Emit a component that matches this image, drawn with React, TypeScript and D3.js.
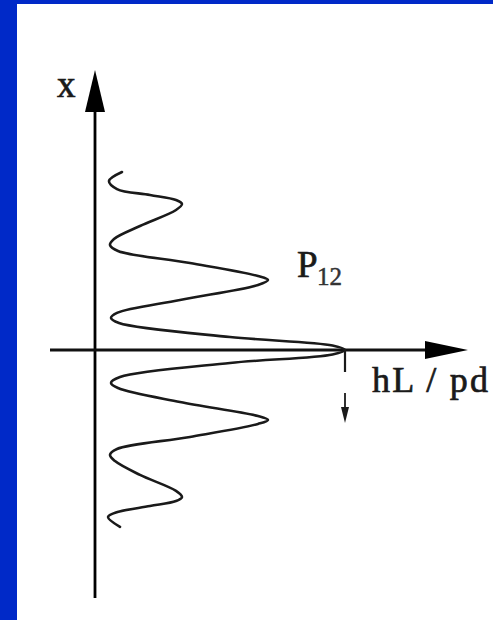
import React from "react";
import * as d3 from "d3";

// Interference profile: position x along the screen (vertical axis)
// and the detection probability P12 (horizontal axis, peak = 1).
const curveX = [
  0.989, 0.939, 0.894, 0.861, 0.833, 0.811, 0.778, 0.689, 0.617, 0.583,
  0.55, 0.483, 0.411, 0.389, 0.361, 0.278, 0.206, 0.178, 0.15, 0.072,
  0.025, 0.0,
  -0.025, -0.072, -0.15, -0.183, -0.211, -0.289, -0.367, -0.389, -0.411,
  -0.483, -0.55, -0.583, -0.617, -0.694, -0.783, -0.817, -0.839, -0.867,
  -0.9, -0.928, -0.983,
];
const curveP = [
  0.108, 0.056, 0.088, 0.22, 0.324, 0.348, 0.324, 0.18, 0.076, 0.06,
  0.092, 0.38, 0.652, 0.692, 0.652, 0.34, 0.088, 0.064, 0.096, 0.54,
  0.95, 1.0,
  0.95, 0.54, 0.1, 0.064, 0.092, 0.34, 0.652, 0.692, 0.652,
  0.38, 0.088, 0.06, 0.08, 0.18, 0.324, 0.348, 0.324, 0.22,
  0.09, 0.052, 0.1,
];

const axisXLabel = "x";
const axisPLabel = "hL / pd";
const curveLabel = "P";
const curveLabelSub = "12";

const W = 493;
const H = 620;
const BLUE = "#0029c8";
const INK = "#1a1a1a";

export default function App() {
  // P12 runs left-to-right, x runs bottom-to-top
  const pScale = d3.scaleLinear().domain([0, 1]).range([95, 345]);
  const xScale = d3.scaleLinear().domain([-1, 1]).range([530, 170]);
  const x0 = pScale(0);
  const y0 = xScale(0);

  const pts: [number, number][] = curveX.map((x, i) => [pScale(curveP[i]), xScale(x)]);
  const line = d3
    .line<[number, number]>()
    .x((d) => d[0])
    .y((d) => d[1])
    .curve(d3.curveCatmullRom.alpha(0.5));

  const peakX = pScale(1);
  const textStyle = { stroke: INK, strokeWidth: 0.7 };

  return (
    <svg
      width={W}
      height={H}
      style={{ position: "absolute", left: 0, top: 0, background: "#fff" }}
      fontFamily="'Liberation Serif', 'Times New Roman', serif"
    >
      {/* slide frame */}
      <rect x={0} y={0} width={W} height={4} fill={BLUE} />
      <rect x={0} y={0} width={17} height={H} fill={BLUE} />

      {/* vertical axis (x) */}
      <line x1={x0} y1={598} x2={x0} y2={100} stroke="#000" strokeWidth={2.8} />
      <path d={`M${x0},70 L${x0 - 10},112 L${x0 + 10},112 Z`} fill="#000" />
      <text x={57} y={97} fontSize={37} fill={INK} style={textStyle}>
        {axisXLabel}
      </text>

      {/* horizontal axis (P12) */}
      <line x1={50} y1={y0} x2={440} y2={y0} stroke="#111" strokeWidth={2.8} />
      <path d={`M468,${y0} L425,${y0 - 9} L425,${y0 + 9} Z`} fill="#000" />
      <text
        x={372}
        y={392}
        fontSize={36}
        fill={INK}
        style={textStyle}
        textLength={116}
        lengthAdjust="spacing"
      >
        {axisPLabel}
      </text>

      {/* profile */}
      <path
        d={line(pts) ?? ""}
        fill="none"
        stroke={INK}
        strokeWidth={2.6}
        strokeLinejoin="round"
        strokeLinecap="round"
      />

      {/* peak marker and downward arrow */}
      <line x1={peakX} y1={y0} x2={peakX} y2={372} stroke={INK} strokeWidth={2.2} />
      <line x1={peakX} y1={393} x2={peakX} y2={410} stroke={INK} strokeWidth={1.8} />
      <path d={`M${peakX - 4},${407} L${peakX + 4},${407} L${peakX},${423} Z`} fill={INK} />

      {/* curve label */}
      <text x={297} y={277} fontSize={37} fill={INK} style={textStyle}>
        {curveLabel}
      </text>
      <text x={317} y={285} fontSize={25} fill="#333" style={{ stroke: "#333", strokeWidth: 0.5 }}>
        {curveLabelSub}
      </text>
    </svg>
  );
}
